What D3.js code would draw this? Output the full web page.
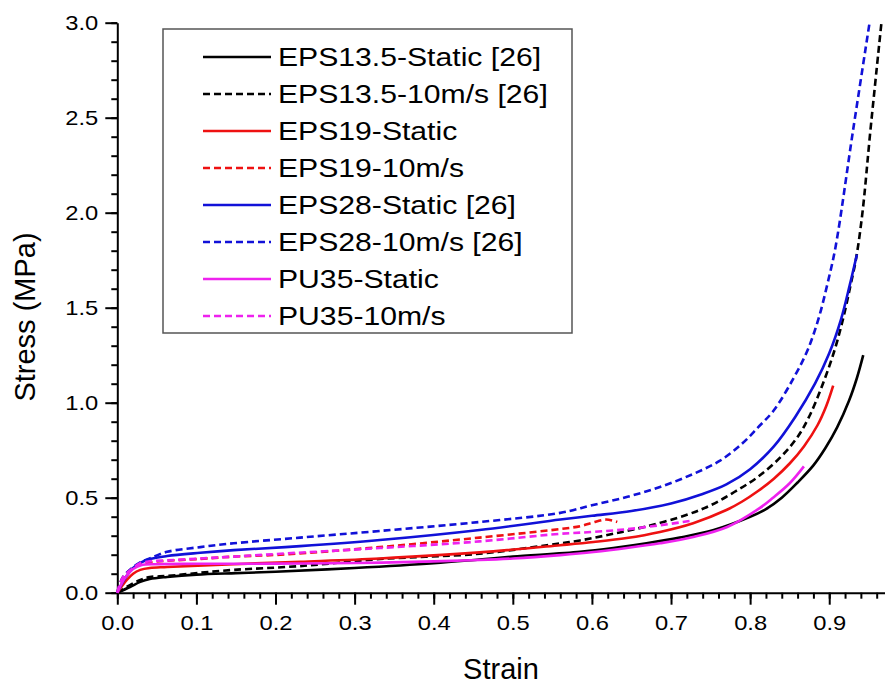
<!DOCTYPE html>
<html>
<head>
<meta charset="utf-8">
<script src="https://cdn.jsdelivr.net/npm/d3@7"></script>
<style>
  body { margin: 0; background: #fff; }
  svg { display: block; font-family: "Liberation Sans", Arial, sans-serif; }
</style>
</head>
<body>
<svg width="885" height="684"></svg>
<script>
// strain / stress (MPa) pairs
const eps135Static = [[0,0],[0.016,0.03],[0.029,0.057],[0.041,0.072],[0.063,0.083],[0.1,0.095],[0.15,0.103],[0.2,0.11],[0.3,0.13],[0.4,0.155],[0.458,0.175],[0.5,0.19],[0.585,0.215],[0.627,0.235],[0.669,0.26],[0.711,0.29],[0.754,0.33],[0.8,0.4],[0.82,0.44],[0.84,0.5],[0.86,0.58],[0.88,0.67],[0.895,0.76],[0.91,0.87],[0.925,1.01],[0.935,1.13],[0.943,1.25]];
const eps13510 = [[0,0],[0.016,0.04],[0.029,0.067],[0.041,0.082],[0.063,0.088],[0.105,0.105],[0.147,0.12],[0.231,0.14],[0.332,0.177],[0.458,0.205],[0.543,0.25],[0.585,0.275],[0.627,0.31],[0.67,0.35],[0.72,0.41],[0.75,0.46],[0.78,0.53],[0.81,0.61],[0.84,0.72],[0.86,0.82],[0.875,0.93],[0.892,1.1],[0.907,1.28],[0.918,1.45],[0.927,1.62],[0.934,1.76],[0.942,2.0],[0.952,2.43],[0.966,3.0]];
const eps19Static = [[0,0],[0.012,0.067],[0.02,0.1],[0.029,0.12],[0.041,0.13],[0.063,0.135],[0.147,0.15],[0.231,0.163],[0.332,0.18],[0.458,0.212],[0.56,0.25],[0.602,0.267],[0.644,0.288],[0.686,0.32],[0.728,0.366],[0.77,0.435],[0.79,0.48],[0.81,0.535],[0.83,0.6],[0.85,0.68],[0.868,0.77],[0.885,0.88],[0.896,0.98],[0.905,1.09]];
const eps1910 = [[0,0],[0.007,0.08],[0.02,0.13],[0.029,0.15],[0.041,0.16],[0.063,0.168],[0.105,0.178],[0.147,0.19],[0.206,0.2],[0.332,0.24],[0.458,0.29],[0.56,0.335],[0.585,0.35],[0.6,0.368],[0.618,0.385],[0.632,0.372]];
const eps28Static = [[0,0],[0.01,0.077],[0.02,0.13],[0.029,0.157],[0.041,0.177],[0.063,0.193],[0.105,0.21],[0.147,0.224],[0.231,0.245],[0.332,0.277],[0.458,0.33],[0.56,0.385],[0.6,0.405],[0.65,0.43],[0.7,0.47],[0.74,0.52],[0.77,0.57],[0.8,0.65],[0.83,0.77],[0.857,0.925],[0.882,1.1],[0.9,1.26],[0.915,1.44],[0.926,1.62],[0.935,1.78]];
const eps2810 = [[0,0],[0.007,0.08],[0.02,0.135],[0.029,0.16],[0.041,0.18],[0.063,0.215],[0.105,0.24],[0.147,0.26],[0.231,0.29],[0.332,0.325],[0.458,0.372],[0.56,0.42],[0.6,0.46],[0.645,0.505],[0.686,0.556],[0.728,0.625],[0.762,0.695],[0.79,0.785],[0.81,0.87],[0.83,0.96],[0.855,1.13],[0.873,1.28],[0.887,1.45],[0.898,1.63],[0.908,1.82],[0.93,2.43],[0.951,3.0]];
const pu35Static = [[0,0],[0.01,0.08],[0.02,0.125],[0.03,0.145],[0.05,0.15],[0.1,0.152],[0.2,0.153],[0.3,0.156],[0.4,0.165],[0.458,0.172],[0.5,0.18],[0.56,0.198],[0.602,0.214],[0.644,0.235],[0.686,0.26],[0.728,0.293],[0.771,0.346],[0.812,0.445],[0.829,0.5],[0.85,0.576],[0.868,0.665]];
const pu3510 = [[0,0],[0.007,0.08],[0.02,0.13],[0.029,0.155],[0.041,0.165],[0.063,0.17],[0.105,0.18],[0.147,0.19],[0.206,0.205],[0.332,0.235],[0.458,0.27],[0.56,0.31],[0.602,0.32],[0.644,0.334],[0.686,0.355],[0.728,0.38]];

const seriesNames = ["EPS13.5-Static [26]", "EPS13.5-10m/s [26]", "EPS19-Static", "EPS19-10m/s",
  "EPS28-Static [26]", "EPS28-10m/s [26]", "PU35-Static", "PU35-10m/s"];
const seriesData = [eps135Static, eps13510, eps19Static, eps1910, eps28Static, eps2810, pu35Static, pu3510];
const seriesColors = ["#000000", "#000000", "#ee1111", "#ee1111", "#1111d8", "#1111d8", "#ee22ee", "#ee22ee"];
const seriesDashed = [false, true, false, true, false, true, false, true];

const xTicks = [0, 0.1, 0.2, 0.3, 0.4, 0.5, 0.6, 0.7, 0.8, 0.9];
const yTicks = [0, 0.5, 1.0, 1.5, 2.0, 2.5, 3.0];

const svg = d3.select("svg");
const x = d3.scaleLinear().domain([0, 0.97]).range([117.3, 884.6]);
const y = d3.scaleLinear().domain([0, 3]).range([592.7, 22.7]);

// minor ticks
svg.append("g")
  .attr("transform", `translate(0,${y(0)})`)
  .call(d3.axisBottom(x).tickValues(d3.range(0, 0.97, 0.02)).tickSize(6).tickSizeOuter(0).tickFormat(""))
  .call(g => g.select(".domain").remove());
svg.append("g")
  .attr("transform", `translate(${x(0)},0)`)
  .call(d3.axisLeft(y).tickValues(d3.range(0, 3.01, 0.1)).tickSize(6).tickSizeOuter(0).tickFormat(""))
  .call(g => g.select(".domain").remove());

let xAxis = svg.append("g")
  .attr("transform", `translate(0,${y(0)})`)
  .call(d3.axisBottom(x).tickValues(xTicks).tickSize(12).tickPadding(10).tickSizeOuter(0).tickFormat(d3.format(".1f")));
let yAxis = svg.append("g")
  .attr("transform", `translate(${x(0)},0)`)
  .call(d3.axisLeft(y).tickValues(yTicks).tickSize(12).tickSizeOuter(0).tickFormat(d3.format(".1f")));

svg.selectAll(".tick line, .domain").attr("stroke", "#000").attr("stroke-width", 2);
svg.selectAll(".tick text").attr("font-family", null).attr("font-size", 21).attr("fill", "#000");
xAxis.selectAll(".tick text").attr("transform", "scale(1.13,1)");
yAxis.selectAll(".tick text").attr("x", 0).attr("transform", "translate(-19,0) scale(1.13,1)");

// curves
const line = d3.line().x(d => x(d[0])).y(d => y(d[1])).curve(d3.curveCatmullRom.alpha(0.5));
svg.append("g").selectAll("path")
  .data(seriesData)
  .join("path")
  .attr("d", line)
  .attr("fill", "none")
  .attr("stroke", (d, i) => seriesColors[i])
  .attr("stroke-width", 2.6)
  .attr("stroke-dasharray", (d, i) => seriesDashed[i] ? "7,4" : null);

// axis titles
svg.append("text")
  .attr("x", 501).attr("y", 679)
  .attr("text-anchor", "middle")
  .attr("font-size", 29)
  .text("Strain");
svg.append("text")
  .attr("transform", "translate(35,317) rotate(-90)")
  .attr("text-anchor", "middle")
  .attr("font-size", 29)
  .text("Stress (MPa)");

// legend
const legend = svg.append("g");
legend.append("rect")
  .attr("x", 163).attr("y", 29).attr("width", 409).attr("height", 304)
  .attr("fill", "#fff").attr("stroke", "#555").attr("stroke-width", 1.5);
const rows = legend.selectAll("g.row")
  .data(seriesNames)
  .join("g")
  .attr("class", "row")
  .attr("transform", (d, i) => `translate(0,${57 + 37 * i})`);
rows.append("line")
  .attr("x1", 203).attr("x2", 271)
  .attr("stroke", (d, i) => seriesColors[i])
  .attr("stroke-width", 2.6)
  .attr("stroke-dasharray", (d, i) => seriesDashed[i] ? "7,4" : null);
rows.append("text")
  .attr("transform", "translate(278,0) scale(1.16,1)")
  .attr("dy", "0.35em")
  .attr("font-size", 26)
  .text(d => d);
</script>
</body>
</html>
